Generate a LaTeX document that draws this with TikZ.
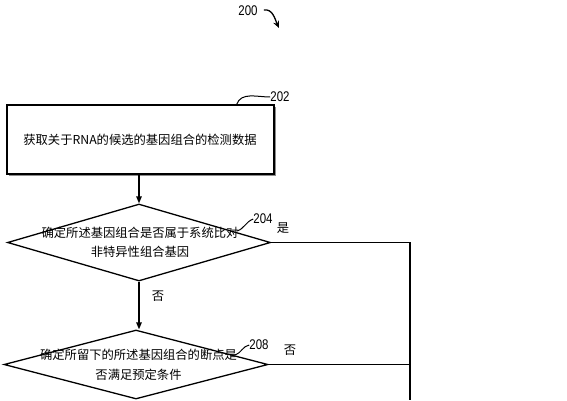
\documentclass[tikz,border=0pt]{standalone}
\usepackage{fontspec}
\usepackage{tikz}
\usetikzlibrary{shapes.geometric,arrows.meta,shadows,calc}
\newfontfamily\cjk{Noto Sans CJK SC}
\newfontfamily\numfont[FakeStretch=0.82]{Liberation Sans}

\begin{document}
\begin{tikzpicture}[x=1pt, y=-1pt,
  stepbox/.style={draw, line width=1.3pt, minimum width=267pt, minimum height=69pt, inner sep=0pt, fill=white,
    drop shadow={shadow xshift=1.5pt, shadow yshift=-1.5pt, fill=black!45, opacity=1}},
  decide/.style={draw, diamond, line width=1.3pt, inner sep=0pt},
  txt/.style={font=\cjk\fontsize{12.3}{19.5}\selectfont, align=center, inner sep=0pt},
  num/.style={font=\numfont\fontsize{14}{14}\selectfont, inner sep=0pt},
  arr/.style={-{Triangle[length=7pt, width=5.5pt]}, line width=1.3pt},
  ln/.style={line width=1.3pt},
  lead/.style={line width=1pt}]
 \useasboundingbox (0,0) rectangle (567,400);
 % figure number
 \node[num] (l200) at (248,11) {200};
 \coordinate (p200) at (279,28);
 \draw[-{Stealth[length=7pt, width=6pt]}, line width=1.3pt] ($(l200.east)+(6,-1)$) to[out=10, in=115] (p200);
 % step 202
 \node[stepbox] (b202) at (140.5,139.5) {};
 \node[txt] (t202) at (140,140) {获取关于RNA的候选的基因组合的检测数据};
 \node[num] (l202) at (280,97) {202};
 \draw[lead] (l202.west) to[out=180, in=70] ($(b202.north east)+(-38,0)$);
 % decision 204
 \node[decide, minimum width=263pt, minimum height=77pt] (d204) at (139,242.5) {};
 \node[txt] (t204) at (140,242.5) {确定所述基因组合是否属于系统比对\\非特异性组合基因};
 \node[num] (l204) at (263,219) {204};
 \draw[lead] (l204.west) to[out=200, in=20] ++(-16,12);
 % decision 208
 \node[decide, minimum width=264pt, minimum height=69pt] (d208) at (136,364.5) {};
 \node[txt] (t208) at (138.5,365) {确定所留下的所述基因组合的断点是\\否满足预定条件};
 \node[num] (l208) at (259,345) {208};
 \draw[lead] (l208.west) to[out=190, in=20] ++(-14,10);
 % branch labels
 \node[txt] (yes204) at (283,228) {是};
 \node[txt] (no204) at (158,296) {否};
 \node[txt] (no208) at (290,350) {否};
 % connectors
 \coordinate (r204) at (410,242.5);
 \coordinate (r208) at (410,364.5);
 \coordinate (rbot) at (410,400);
 \draw[arr] (b202.south -| d204.north) -- (d204.north);
 \draw[arr] (d204.south) -- (d208.north -| d204.south);
 \draw[ln] (d204.east) -- (r204) -- (rbot);
 \draw[ln] (d208.east) -- (r208);
\end{tikzpicture}
\end{document}
